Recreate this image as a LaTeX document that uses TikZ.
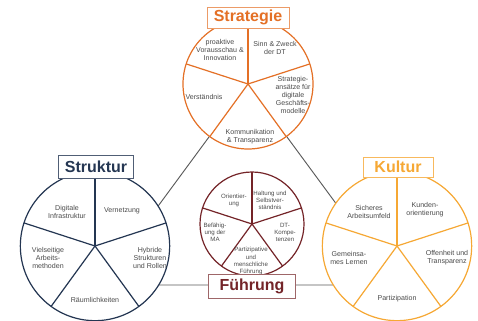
\documentclass[tikz,border=0pt]{standalone}
\usepackage{fontspec}
\setmainfont{Liberation Sans}
\usetikzlibrary{shapes}
\definecolor{strategie}{RGB}{228,112,38}
\definecolor{struktur}{RGB}{36,54,82}
\definecolor{kultur}{RGB}{246,168,52}
\definecolor{fuehrung}{RGB}{116,36,40}
\definecolor{schrift}{RGB}{75,75,75}
\tikzset{
  rad/.style={circle,fill=white,line width=0.9pt,inner sep=0pt,outer sep=0pt},
  feld/.style={align=center,text=schrift,inner sep=0pt,font=\fontsize{5.3}{6.1}\selectfont},
  kfeld/.style={feld,font=\fontsize{4.6}{5.3}\selectfont},
  titel/.style={draw,fill=white,line width=0.6pt,inner sep=1pt,font=\bfseries\fontsize{12}{14}\selectfont}
}

\begin{document}
\begin{tikzpicture}[x=0.75pt,y=0.75pt,yscale=-1,xscale=1]
  \useasboundingbox (0,0) rectangle (478,321);
  % Dreieck hinter den Kreisen
  \coordinate (eckeL) at (100,285);
  \coordinate (eckeR) at (396,285);
  \coordinate (eckeO) at (248,84);
  \draw[color={rgb,255:red,90;green,90;blue,90},line width=0.7pt] (eckeO) -- (eckeL) -- (eckeR) -- cycle;

  % Kreise
  \node[rad,draw=strategie,minimum size=97.5pt] (strat) at (248,84) {};
  \node[rad,draw=struktur,minimum size=112pt] (strukt) at (95,246) {};
  \node[rad,draw=kultur,minimum size=112pt] (kult) at (397,246) {};
  \node[rad,draw=fuehrung,minimum size=78pt] (fuehr) at (252,224) {};
  \foreach \a in {90,18,-54,-126,162} {
    \draw[strategie,line width=0.9pt] (strat.center) -- (strat.\a);
    \draw[struktur,line width=0.9pt] (strukt.center) -- (strukt.\a);
    \draw[kultur,line width=0.9pt] (kult.center) -- (kult.\a);
    \draw[fuehrung,line width=0.9pt] (fuehr.center) -- (fuehr.\a);
  }

  % Strategie
  \node[feld] (s1) at (220,50) {proaktive\\Vorausschau \&\\Innovation};
  \node[feld] (s2) at (275,48) {Sinn \& Zweck\\der DT};
  \node[feld] (s3) at (293,95) {Strategie-\\ansätze für\\digitale\\Geschäfts-\\modelle};
  \node[feld] (s4) at (204,97) {Verständnis};
  \node[feld] (s5) at (250,137) {Kommunikation\\\& Transparenz};

  % Struktur
  \node[feld] (t1) at (67,212) {Digitale\\Infrastruktur};
  \node[feld] (t2) at (122,211) {Vernetzung};
  \node[feld] (t3) at (48,258) {Vielseitige\\Arbeits-\\methoden};
  \node[feld] (t4) at (150,258) {Hybride\\Strukturen\\und Rollen};
  \node[feld] (t5) at (95,300) {Räumlichkeiten};

  % Kultur
  \node[feld] (k1) at (369,212) {Sicheres\\Arbeitsumfeld};
  \node[feld] (k2) at (425,210) {Kunden-\\orientierung};
  \node[feld] (k3) at (349,258) {Gemeinsa-\\mes Lernen};
  \node[feld] (k4) at (447,258) {Offenheit und\\Transparenz};
  \node[feld] (k5) at (397,299) {Partizipation};

  % Fuehrung
  \node[kfeld] (f1) at (234,200) {Orientier-\\ung};
  \node[kfeld] (f2) at (270,200) {Haltung und\\Selbstver-\\ständnis};
  \node[kfeld] (f3) at (215,232) {Befähig-\\ung der\\MA};
  \node[kfeld] (f4) at (285,232) {DT-\\Kompe-\\tenzen};
  \node[kfeld] (f5) at (251,261) {Partizipative\\und\\menschliche\\Führung};

  % Titel
  \node[titel,draw=strategie!70,text=strategie,minimum width=61.5pt,minimum height=15.7pt] (stratT) at (248,17.5) {Strategie};
  \node[titel,draw=struktur!80,text=struktur,minimum width=56pt,minimum height=17pt] (struktT) at (96,167) {Struktur};
  \node[titel,draw=kultur!80,text=kultur,minimum width=52.5pt,minimum height=15pt] (kultT) at (398,167) {Kultur};
  \node[titel,draw=fuehrung!70,text=fuehrung,minimum width=65pt,minimum height=18pt] (fuehrT) at (252,286) {Führung};
\end{tikzpicture}
\end{document}
